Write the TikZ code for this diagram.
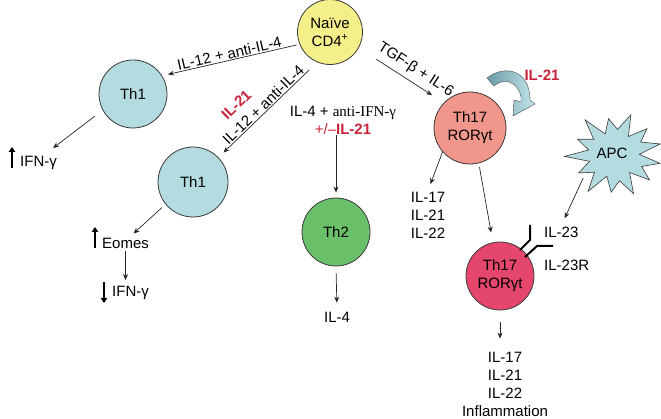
\documentclass[tikz,border=0pt]{standalone}
\usepackage{fontspec}
\setmainfont{Liberation Sans}
\newfontfamily\serifface{Liberation Serif}
\usetikzlibrary{arrows.meta,calc}
\definecolor{naivecol}{HTML}{F5EF8A}
\definecolor{thonecol}{HTML}{B4DCE0}
\definecolor{thtwocol}{HTML}{6ABF69}
\definecolor{thsevacol}{HTML}{F1968B}
\definecolor{thsevbcol}{HTML}{E4466C}
\definecolor{redtxt}{HTML}{C8243C}
\definecolor{arrdark}{HTML}{6A9AA4}
\definecolor{arrlight}{HTML}{C4E6EC}
\definecolor{edgecol}{HTML}{3A3A3A}
\begin{document}
\begin{tikzpicture}[x=1pt,y=-1pt,
  font=\fontsize{15}{18}\selectfont,
  cell/.style={circle, draw=edgecol, line width=0.8pt, inner sep=0pt, align=center},
  txt/.style={inner sep=1pt, align=center},
  conn/.style={draw=black!85, line width=0.7pt, -{Stealth[length=6pt,width=5pt]}},
  updown/.style={line width=2pt, -{Triangle[length=5pt,width=6.5pt]}},
  recep/.style={line width=2pt, line join=miter}]
\useasboundingbox (0,0) rectangle (661,419);

% cells
\node[cell, fill=naivecol, minimum size=65pt] (naive) at (330,32) {Naïve\\CD4\textsuperscript{+}};
\node[cell, fill=thonecol, minimum size=68pt] (th1a) at (133,94) {Th1};
\node[cell, fill=thonecol, minimum size=70pt] (th1b) at (193,182) {Th1};
\node[cell, fill=thtwocol, minimum size=68pt] (th2) at (336,232) {Th2};
\node[cell, fill=thsevacol, minimum size=72pt] (th17a) at (470,128) {Th17\\RORγt};
\node[cell, fill=thsevbcol, minimum size=68pt] (th17b) at (500,276) {Th17\\RORγt};

% APC star
\filldraw[fill=thonecol, draw=edgecol, line width=0.6pt]
  plot[samples at={0,...,25}, variable=\k]
  ({615+(1+0.1*sin(\k*97))*(mod(\k,2)==0 ? 46 : 27)*cos(\k*360/26+12)},
   {155+(1+0.1*sin(\k*97))*(mod(\k,2)==0 ? 40 : 24)*sin(\k*360/26+12)}) -- cycle;
\node[circle, minimum size=76pt, inner sep=0pt] (apc) at (612,153) {APC};

% text nodes
\node[txt, anchor=west] (ifna) at (19,163) {IFN-γ};
\node[txt, anchor=west] (eomes) at (101,243) {Eomes};
\node[txt, anchor=west] (ifnb) at (111,293) {IFN-γ};
\node[txt] (ilfour) at (337,317) {IL-4};
\node[txt] (cyta) at (428,215) {IL-17\\IL-21\\IL-22};
\node[txt] (cytb) at (505,384) {IL-17\\IL-21\\IL-22\\Inflammation};
\node[txt, anchor=west] (ilts) at (543,232) {IL-23};
\node[txt, anchor=west] (iltsr) at (543,265) {IL-23R};
\node[txt, text=redtxt, font=\fontsize{15}{18}\selectfont\bfseries] (ilred) at (542,75) {IL-21};
\node[txt] (thtwolab) at (343,120) {IL-4 + {\serifface anti-IFN-γ}\\{\color{redtxt}+/–\textbf{IL-21}}};

% up/down indicator arrows
\draw[updown] ($(ifna.west)+(-7,5)$) -- ($(ifna.west)+(-7,-16)$);
\draw[updown] ($(eomes.west)+(-6,5)$) -- ($(eomes.west)+(-6,-16)$);
\draw[updown] ($(ifnb.west)+(-7,-11)$) -- ($(ifnb.west)+(-7,10)$);

% connectors
\draw[conn, shorten <=3pt, shorten >=6pt] (naive.202) -- node[txt, sloped, above] {IL-12 + anti-IL-4} (th1a.32);
\draw[conn, shorten <=11pt, shorten >=7pt] (naive.247) --
  node[txt, sloped, above] {IL-12 + anti-IL-4}
  node[txt, sloped, above=19pt, pos=0.64, text=redtxt, font=\fontsize{15}{18}\selectfont\bfseries] {IL-21}
  (th1b.44);
\draw[conn, shorten >=5pt] (thtwolab.south -| th2.north) -- (th2.north);
\draw[conn, shorten <=21pt, shorten >=14pt] (naive.331) -- node[txt, sloped, above=4pt, pos=0.59] {TGF-β + IL-6} (th17a.136);
\draw[conn, shorten <=10pt] (th1a.208) -- ([shift={(-5,-7)}]ifna.north east);
\draw[conn, shorten <=5pt] (th1b.219) -- ([shift={(8,-3)}]eomes.north);
\draw[conn, shorten <=2pt, shorten >=5pt] (eomes.south) -- (eomes.south |- ifnb.north);
\draw[conn, shorten <=7pt, shorten >=8pt] (th2.south) -- (ilfour.north);
\draw[conn, shorten >=7pt] (th17a.221) -- (cyta.north);
\draw[conn, shorten <=4pt, shorten >=10pt] (th17a.284) -- (th17b.102);
\draw[conn, shorten <=12pt, shorten >=12pt] (th17b.south) -- (th17b.south |- cytb.north);
\draw[conn, shorten >=8pt] (apc.221) -- (ilts.north);

% IL-23 receptor
\draw[recep] (530,225) -- (530,240) -- (520,250);
\draw[recep] (553,246) -- (537,246) -- (525,257);

% curved block arrow (IL-21 autocrine)
\shade[left color=arrdark, right color=arrlight]
  (487,78) .. controls (505,64) and (530,70) .. (530,100) -- (535,104) -- (513,116) -- (514,100) -- (521,102)
  .. controls (523,88) and (508,74) .. (494,86) -- cycle;
\draw[draw=gray!60!black, line width=0.4pt]
  (487,78) .. controls (505,64) and (530,70) .. (530,100) -- (535,104) -- (513,116) -- (514,100) -- (521,102)
  .. controls (523,88) and (508,74) .. (494,86) -- cycle;
\end{tikzpicture}
\end{document}
